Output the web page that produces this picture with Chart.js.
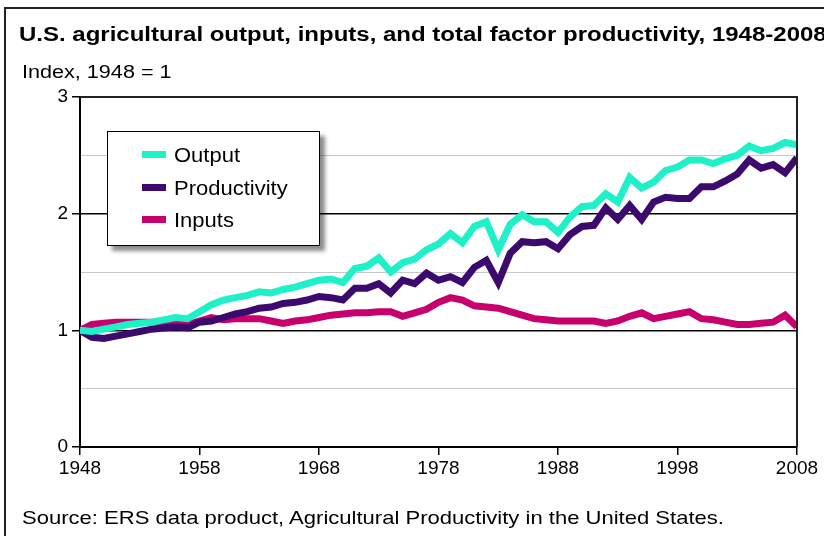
<!DOCTYPE html>
<html>
<head>
<meta charset="utf-8">
<script src="https://cdn.jsdelivr.net/npm/chart.js@4"></script>
<style>
    body { margin: 0; background: #fff; font-family: 'Liberation Sans', Arial, sans-serif; }
    #wrap { position: relative; width: 824px; height: 536px; overflow: hidden; }
    #frame { position: absolute; left: 4px; top: 7px; width: 900px; height: 600px; border-left: 2px solid #222; border-top: 2px solid #222; }
    .txt { position: absolute; white-space: nowrap; color: #000; transform-origin: 0 50%; }
    #title { left: 19px; top: 23px; font-size: 20px; font-weight: bold; transform: scaleX(1.2); }
    #unit { left: 22px; top: 62px; font-size: 18px; transform: scaleX(1.2); }
    #source { left: 22px; top: 507px; font-size: 19px; transform: scaleX(1.16); }
    #legend { position: absolute; left: 107px; top: 131px; width: 211px; height: 113px; background: #fff; border: 1.5px solid #000; box-shadow: 5px 5px 4px rgba(0, 0, 0, 0.45); }
    .item { position: absolute; left: 34px; font-size: 20px; color: #000; white-space: nowrap; }
    .item span { display: inline-block; width: 24px; height: 7px; margin-right: 8px; vertical-align: middle; position: relative; top: -2px; }
    .item b { font-weight: normal; display: inline-block; transform: scaleX(1.1); transform-origin: 0 50%; }
    canvas { position: absolute; left: 0; top: 0; }
</style>
</head>
<body>
<div id="wrap">
    <div id="frame"></div>
    <canvas id="chart-line" width="824" height="536"></canvas>
    <div id="title" class="txt">U.S. agricultural output, inputs, and total factor productivity, 1948-2008</div>
    <div id="unit" class="txt">Index, 1948 = 1</div>
    <div id="legend">
        <div class="item" style="top: 12px"><span style="background: #1EF0C8"></span><b>Output</b></div>
        <div class="item" style="top: 45px"><span style="background: #3C0A6E"></span><b>Productivity</b></div>
        <div class="item" style="top: 77px"><span style="background: #C8006E"></span><b>Inputs</b></div>
    </div>
    <div id="source" class="txt">Source: ERS data product, Agricultural Productivity in the United States.</div>
</div>
<script>
    let years = []
    for (let y = 1948; y <= 2008; y++) years.push(y)

    let output = [
        1.00, 0.99, 1.01, 1.03, 1.05, 1.06, 1.07, 1.09, 1.11, 1.10,
        1.16, 1.22, 1.26, 1.28, 1.30, 1.33, 1.32, 1.35, 1.37, 1.40,
        1.43, 1.44, 1.41, 1.53, 1.55, 1.62, 1.50, 1.58, 1.61, 1.69,
        1.74, 1.83, 1.75, 1.89, 1.93, 1.69, 1.91, 1.99, 1.93, 1.93,
        1.84, 1.97, 2.06, 2.07, 2.17, 2.10, 2.31, 2.22, 2.27, 2.37,
        2.40, 2.46, 2.46, 2.43, 2.47, 2.50, 2.58, 2.54, 2.56, 2.61,
        2.59
    ]
    let productivity = [
        1.00, 0.94, 0.93, 0.95, 0.97, 0.99, 1.01, 1.02, 1.03, 1.02,
        1.07, 1.08, 1.11, 1.14, 1.16, 1.19, 1.20, 1.23, 1.24, 1.26,
        1.29, 1.28, 1.26, 1.36, 1.36, 1.40, 1.32, 1.43, 1.40, 1.49,
        1.43, 1.46, 1.41, 1.54, 1.60, 1.41, 1.66, 1.76, 1.75, 1.76,
        1.70, 1.82, 1.89, 1.90, 2.05, 1.95, 2.07, 1.95, 2.10, 2.14,
        2.13, 2.13, 2.23, 2.23, 2.28, 2.34, 2.46, 2.39, 2.42, 2.35,
        2.48
    ]
    let inputs = [
        1.00, 1.05, 1.06, 1.07, 1.07, 1.07, 1.07, 1.07, 1.06, 1.05,
        1.08, 1.11, 1.09, 1.10, 1.10, 1.10, 1.08, 1.06, 1.08, 1.09,
        1.11, 1.13, 1.14, 1.15, 1.15, 1.16, 1.16, 1.12, 1.15, 1.18,
        1.24, 1.28, 1.26, 1.21, 1.20, 1.19, 1.16, 1.13, 1.10, 1.09,
        1.08, 1.08, 1.08, 1.08, 1.06, 1.08, 1.12, 1.15, 1.10, 1.12,
        1.14, 1.16, 1.10, 1.09, 1.07, 1.05, 1.05, 1.06, 1.07, 1.13,
        1.03
    ]
    let xTicks = [1948, 1958, 1968, 1978, 1988, 1998, 2008]
    let yTicks = [0, 1, 2, 3]

    function points(values) {
        return values.map((v, i) => ({ x: years[i], y: v }))
    }

    let line = document.getElementById('chart-line')

    new Chart(line, {
        type: 'line',
        data: {
            datasets: [
                {
                    label: 'Output',
                    data: points(output),
                    borderColor: '#1EF0C8',
                    borderWidth: 7,
                    pointRadius: 0
                },
                {
                    label: 'Productivity',
                    data: points(productivity),
                    borderColor: '#3C0A6E',
                    borderWidth: 7,
                    pointRadius: 0
                },
                {
                    label: 'Inputs',
                    data: points(inputs),
                    borderColor: '#C8006E',
                    borderWidth: 7,
                    pointRadius: 0
                }
            ]
        },
        options: {
            responsive: false,
            animation: false,
            layout: {
                padding: { left: 0, right: 27, top: 97, bottom: 0 }
            },
            scales: {
                x: {
                    type: 'linear',
                    min: 1948,
                    max: 2008,
                    afterBuildTicks: scale => { scale.ticks = xTicks.map(v => ({ value: v })) },
                    afterFit: scale => { scale.height = 89 },
                    ticks: {
                        color: '#000',
                        font: { family: 'Liberation Sans', size: 19 },
                        padding: 2,
                        maxRotation: 0,
                        callback: v => String(v)
                    },
                    border: { display: true, color: '#000', width: 2 },
                    grid: {
                        display: true,
                        drawOnChartArea: false,
                        color: '#000',
                        tickLength: 8,
                        lineWidth: 1.5
                    }
                },
                y: {
                    min: 0,
                    max: 3,
                    afterBuildTicks: scale => { scale.ticks = [0, 0.5, 1, 1.5, 2, 2.5, 3].map(v => ({ value: v })) },
                    afterFit: scale => { scale.width = 80 },
                    ticks: {
                        color: '#000',
                        font: { family: 'Liberation Sans', size: 19 },
                        padding: 4,
                        callback: v => yTicks.includes(v) ? String(v) : ''
                    },
                    border: { display: true, color: '#000', width: 2 },
                    grid: {
                        display: true,
                        color: ctx => Number.isInteger(ctx.tick.value) ? '#000' : '#c8c8c8',
                        tickColor: ctx => Number.isInteger(ctx.tick.value) ? '#000' : 'rgba(0,0,0,0)',
                        lineWidth: ctx => Number.isInteger(ctx.tick.value) ? 1.5 : 1,
                        tickLength: 8
                    }
                }
            },
            plugins: {
                title: { display: false },
                legend: { display: false },
                tooltip: { enabled: false }
            }
        },
        plugins: [{
            id: 'box',
            afterDraw: chart => {
                let a = chart.chartArea
                let c = chart.ctx
                c.save()
                c.strokeStyle = '#222'
                c.lineWidth = 2
                c.beginPath()
                c.moveTo(a.left, a.top)
                c.lineTo(a.right, a.top)
                c.lineTo(a.right, a.bottom)
                c.stroke()
                c.restore()
            }
        }]
    })
</script>
</body>
</html>
